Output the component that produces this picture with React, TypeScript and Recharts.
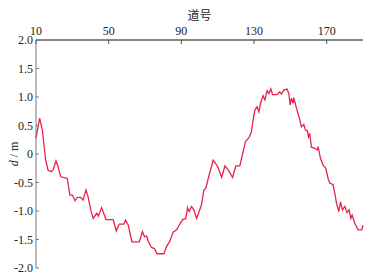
import { LineChart, Line, XAxis, YAxis } from "recharts";

// 道号 (trace number) and offset d in metres
const traceNo = [
  10, 12, 13.5, 15.3, 16.6, 18.4, 19.4, 21, 22.1, 23.6, 26.3, 27.2, 28.7, 30, 31.5, 32.7, 34.6, 35.9, 37.5, 38.6,
  40.1, 41.5, 43.4, 44.4, 46.1, 48.5, 52.5, 54.2, 55.8, 58.4, 59.3, 60.8, 62.8, 66.9, 68.6, 69.7, 70.9, 71.9, 73.6, 75.2,
  76.7, 80.4, 81.9, 83.7, 85.5, 87.4, 88.8, 90.7, 92.5, 93.4, 94.3, 95.6, 96.9, 98.4, 99.8, 101.1, 102.4, 103.5, 104.8, 106.1,
  107.5, 109.4, 110.3, 112.2, 114, 115.8, 118.2, 120, 122.2, 124, 125.3, 127.3, 128.6, 129.5, 130.5, 131.7, 132.7, 133.6, 135, 136,
  137.2, 138.2, 139.3, 140.2, 142.7, 144.2, 145.1, 146.4, 148.2, 149.2, 149.9, 150.6, 151.5, 151.9, 153.4, 154.8, 156.1, 157.4, 158.3, 159.4,
  160, 160.7, 161.6, 163.5, 164.7, 165.3, 166.6, 168, 169.5, 170.8, 171.7, 173.5, 174.5, 175.4, 176.7, 177.6, 178.7, 180, 181.2, 182.3,
  183.3, 184, 185.5, 187.3, 189.3, 190,
];
const offsetD = [
  0.28, 0.63, 0.42, -0.1, -0.28, -0.31, -0.28, -0.12, -0.22, -0.4, -0.42, -0.43, -0.72, -0.72, -0.82, -0.76, -0.76, -0.81, -0.63, -0.74,
  -0.98, -1.13, -1.04, -1.09, -0.94, -1.15, -1.15, -1.35, -1.23, -1.23, -1.16, -1.25, -1.54, -1.54, -1.36, -1.45, -1.44, -1.54, -1.64, -1.66,
  -1.75, -1.75, -1.62, -1.53, -1.37, -1.33, -1.25, -1.15, -1.13, -0.94, -1.01, -0.92, -0.98, -1.13, -1.01, -0.89, -0.63, -0.6, -0.43, -0.28,
  -0.11, -0.19, -0.24, -0.41, -0.21, -0.28, -0.41, -0.21, -0.21, 0.04, 0.22, 0.29, 0.39, 0.6, 0.77, 0.83, 0.74, 0.89, 1.02, 0.95,
  1.11, 1.06, 1.14, 1.04, 1.04, 1.09, 1.05, 1.12, 1.14, 1.06, 0.86, 0.98, 0.89, 0.99, 0.8, 0.65, 0.48, 0.52, 0.42, 0.41,
  0.3, 0.36, 0.12, 0.1, 0.07, 0.13, -0.08, -0.19, -0.25, -0.43, -0.51, -0.54, -0.69, -0.86, -1.01, -0.84, -0.98, -0.92, -1.03, -0.98,
  -1.13, -1.07, -1.22, -1.33, -1.33, -1.25,
];
const xTicks = [10, 50, 90, 130, 170];
const yTicks = [2, 1.5, 1, 0.5, 0, -0.5, -1, -1.5, -2];

const data = traceNo.map((x, i) => ({ x, d: offsetD[i] }));

const serif = "'Liberation Serif', 'DejaVu Serif', serif";
const tickStyle = { fontFamily: serif, fontSize: 12, fill: "#222" };

// rotated "d / m" with italic d
const YLabel = ({ viewBox }: any) => {
  const cy = viewBox.y + viewBox.height / 2;
  return (
    <text
      x={14}
      y={cy}
      transform={`rotate(-90, 14, ${cy})`}
      textAnchor="middle"
      dominantBaseline="central"
      style={{ fontFamily: serif, fontSize: 12, fill: "#222" }}
    >
      <tspan fontStyle="italic">d</tspan>
      <tspan> / m</tspan>
    </text>
  );
};

const XLabel = ({ viewBox }: any) => (
  <text
    x={viewBox.x + viewBox.width / 2}
    y={14}
    textAnchor="middle"
    dominantBaseline="central"
    style={{ fontFamily: "'Noto Sans CJK SC', sans-serif", fontSize: 12, fill: "#222" }}
  >
    道号
  </text>
);

export default function App() {
  return (
    <div style={{ position: "absolute", left: 0, top: 0, width: 392, height: 280, background: "#fff" }}>
      <LineChart width={392} height={280} data={data} margin={{ top: 0, right: 29, bottom: 12, left: 0 }}>
        <XAxis
          dataKey="x"
          type="number"
          orientation="top"
          domain={[10, 190]}
          ticks={xTicks}
          height={40}
          tickSize={-4}
          tickMargin={9}
          tick={tickStyle}
          axisLine={{ stroke: "#111" }}
          tickLine={{ stroke: "#555" }}
          interval={0}
          label={<XLabel />}
        />
        <XAxis
          xAxisId="bottom"
          dataKey="x"
          type="number"
          orientation="bottom"
          domain={[10, 190]}
          height={0}
          tick={false}
          tickLine={false}
          axisLine={{ stroke: "#888" }}
        />
        <YAxis
          type="number"
          domain={[-2, 2]}
          ticks={yTicks}
          width={36}
          tickSize={-3}
          tickMargin={6}
          tick={tickStyle}
          tickFormatter={(v: number) => (v === 0 ? "0" : v.toFixed(1))}
          axisLine={{ stroke: "#777" }}
          tickLine={{ stroke: "#777" }}
          interval={0}
          label={<YLabel />}
        />
        <YAxis
          yAxisId="right"
          orientation="right"
          domain={[-2, 2]}
          width={0}
          tick={false}
          tickLine={false}
          axisLine={{ stroke: "#888" }}
        />
        <Line
          dataKey="d"
          type="linear"
          stroke="#e8234a"
          strokeWidth={1.3}
          dot={false}
          isAnimationActive={false}
        />
      </LineChart>
    </div>
  );
}
